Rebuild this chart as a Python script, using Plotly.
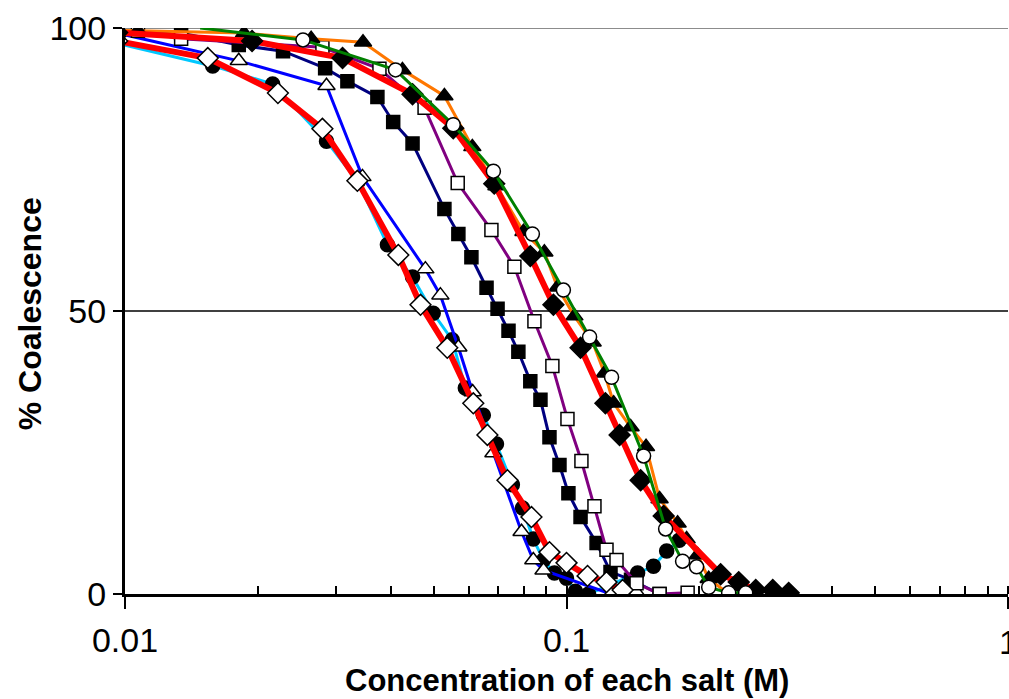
import plotly.graph_objects as go

# ---- data ----
# filled circles, cyan line
circ_x = [0.0096, 0.0158, 0.0216, 0.0286, 0.0337, 0.0393, 0.0448, 0.0499, 0.0551, 0.059, 0.0648,
          0.0694, 0.0754, 0.0795, 0.0841, 0.0887, 0.0939, 0.1, 0.1048, 0.1122, 0.1449, 0.1574, 0.1686, 0.18]
circ_y = [97.3, 93.3, 90.1, 80.0, 72.8, 61.7, 56.0, 49.6, 44.9, 36.4, 31.6,
          26.5, 19.3, 15.2, 9.7, 6.0, 3.7, 2.8, 0.5, 0.0, 3.7, 4.9, 7.6, 9.5]

# open triangles, blue line
otri_x = [0.0096, 0.0181, 0.0286, 0.0345, 0.0479, 0.0518, 0.0569, 0.0613, 0.0683, 0.0791, 0.0841, 0.0887, 0.126, 0.144]
otri_y = [99.1, 94.2, 89.8, 73.7, 57.4, 52.8, 43.6, 35.7, 24.9, 11.0, 6.0, 4.2, 0.0, 0.3]

# filled squares, navy line
fsq_x = [0.0096, 0.0134, 0.0181, 0.0228, 0.0284, 0.0319, 0.0373, 0.0405, 0.0448, 0.0529, 0.0569, 0.0609,
         0.0659, 0.0698, 0.0739, 0.0778, 0.0828, 0.0873, 0.0915, 0.0964, 0.101, 0.1076, 0.117, 0.1258, 0.14, 0.1625]
fsq_y = [98.8, 99.1, 97.0, 95.9, 92.9, 90.6, 87.8, 83.4, 79.6, 68.0, 63.6, 59.5,
         54.1, 50.4, 46.5, 42.8, 37.6, 34.3, 27.7, 22.8, 17.8, 13.6, 9.0, 3.9, 2.5, 0.0]

# open squares, purple line
osq_x = [0.0096, 0.0107, 0.0134, 0.028, 0.0377, 0.0477, 0.0567, 0.0676, 0.0762, 0.0846, 0.0929, 0.1005,
         0.1081, 0.1157, 0.1232, 0.1298, 0.1441, 0.1625, 0.1881]
osq_y = [99.0, 99.5, 98.1, 96.6, 92.8, 85.9, 72.6, 64.3, 57.8, 48.2, 40.3, 30.9,
         23.5, 15.5, 7.8, 6.0, 1.9, 0.0, 0.2]

# filled triangles, orange line
ftri_x = [0.0096, 0.0107, 0.0186, 0.0264, 0.0346, 0.0425, 0.0529, 0.0612, 0.0694, 0.0799, 0.0891, 0.0954,
          0.1042, 0.1146, 0.1219, 0.1279, 0.1397, 0.1514, 0.1625, 0.1785, 0.1871, 0.1982, 0.2099, 0.233]
ftri_y = [99.6, 99.5, 99.1, 98.1, 97.5, 92.6, 88.0, 79.0, 72.1, 64.0, 60.4, 54.2,
          49.1, 44.5, 39.0, 33.7, 29.5, 26.0, 16.8, 12.5, 9.7, 6.9, 2.7, 0.0]

# filled diamonds, thick red line (right group)
fdia_x = [0.0096, 0.0194, 0.0311, 0.0448, 0.0554, 0.0686, 0.0828, 0.0934, 0.1076, 0.1225, 0.1319,
          0.1472, 0.166, 0.2234, 0.2455, 0.2683, 0.2932, 0.3186]
fdia_y = [99.2, 97.7, 94.7, 88.3, 82.3, 72.5, 59.7, 51.1, 43.5, 33.7, 28.1,
          20.1, 13.8, 3.5, 2.1, 0.7, 0.7, 0.2]

# open diamonds, thick red line (left group)
odia_x = [0.0096, 0.0154, 0.0222, 0.028, 0.0336, 0.0416, 0.0467, 0.0537, 0.0615, 0.0662, 0.0735, 0.0833,
          0.0915, 0.1, 0.1116, 0.1232, 0.134]
odia_y = [97.7, 94.7, 88.5, 82.2, 73.0, 59.9, 51.1, 43.5, 33.7, 28.1, 20.1, 13.6,
          7.4, 5.5, 3.2, 2.1, 0.7]

# open circles, green line
ocir_x = [0.0148, 0.0253, 0.041, 0.0554, 0.0683, 0.0837, 0.0984, 0.1128, 0.1265, 0.1495, 0.1677, 0.1832,
          0.1971, 0.2099, 0.233, 0.2546]
ocir_y = [100.0, 97.9, 92.6, 82.9, 74.7, 63.6, 53.7, 45.4, 38.3, 24.4, 11.5, 5.8,
          4.8, 1.2, 0.2, 0.2]

x_tickvals = [0.01, 0.1, 1]
x_ticktext = ["0.01", "0.1", "1"]
y_tickvals = [0, 50, 100]

FONT = "Arial, Liberation Sans, sans-serif"

fig = go.Figure()


def add(x, y, color, width, symbol, fill, size, first_marker=True):
    sizes = [size] * len(x)
    if not first_marker:
        sizes[0] = 0
    fig.add_trace(go.Scatter(
        x=x, y=y, mode="lines+markers",
        line=dict(color=color, width=width),
        marker=dict(symbol=symbol, size=sizes, sizemode="diameter", color=fill,
                    opacity=1, line=dict(color="black", width=1.5)),
        showlegend=False, cliponaxis=True))


add(circ_x, circ_y, "#00C8FF", 3, "circle", "black", 14)
add(otri_x, otri_y, "#0000FF", 3, "triangle-up", "white", 15)
add(fsq_x, fsq_y, "#000080", 3, "square", "black", 13)
add(osq_x, osq_y, "#800080", 3, "square", "white", 13)
add(ftri_x, ftri_y, "#FF7700", 3, "triangle-up", "black", 15)
add(fdia_x, fdia_y, "#FF0000", 6, "diamond", "black", 16)
add(odia_x, odia_y, "#FF0000", 6, "diamond", "white", 16)
add(ocir_x, ocir_y, "#008000", 3, "circle", "white", 14, first_marker=False)

# reference lines (50% gridline, top border)
fig.add_shape(type="line", xref="paper", yref="y", x0=0, x1=1, y0=50, y1=50,
              line=dict(color="black", width=1.5), layer="below")
fig.add_shape(type="line", xref="paper", yref="y", x0=0, x1=1, y0=100, y1=100,
              line=dict(color="#8c8c8c", width=2), layer="below")

minor_vals = [0.02, 0.03, 0.04, 0.05, 0.06, 0.07, 0.08, 0.09, 0.1,
              0.2, 0.3, 0.4, 0.5, 0.6, 0.7, 0.8, 0.9, 1]

fig.update_xaxes(
    type="log", range=[-2, 0],
    tickmode="array", tickvals=x_tickvals, ticktext=x_ticktext,
    ticks="outside", ticklen=12, tickwidth=2, tickcolor="black",
    ticklabelstandoff=2,
    showline=True, linecolor="black", linewidth=3,
    showgrid=False, zeroline=False,
    tickfont=dict(family=FONT, size=34, color="black"),
    minor=dict(tickmode="array", tickvals=minor_vals, ticks="inside",
               ticklen=8, tickwidth=2, tickcolor="black", showgrid=False),
)
fig.update_yaxes(
    range=[0, 100],
    tickmode="array", tickvals=y_tickvals,
    ticks="outside", ticklen=9, tickwidth=2, tickcolor="black",
    showline=True, linecolor="black", linewidth=3,
    showgrid=False, zeroline=False,
    tickfont=dict(family=FONT, size=34, color="black"),
)

# the "1" label at the right edge of the axis (partly outside the figure, as in the reference)
fig.add_annotation(text="1", xref="paper", yref="paper", x=1, y=-0.085,
                   xanchor="center", yanchor="middle", showarrow=False,
                   font=dict(family=FONT, size=34, color="black"))

fig.add_annotation(text="<b>Concentration of each salt (M)</b>", xref="paper", yref="paper",
                   x=0.5, y=-0.152, xanchor="center", yanchor="middle", showarrow=False,
                   font=dict(family=FONT, size=31, color="black"))
fig.add_annotation(text="<b>% Coalescence</b>", xref="paper", yref="paper",
                   x=-0.1076, y=0.496, xanchor="center", yanchor="middle", showarrow=False,
                   textangle=-90, font=dict(family=FONT, size=32, color="black"))

fig.update_layout(
    width=1009, height=699,
    margin=dict(l=125, r=1, t=28, b=105),
    paper_bgcolor="white", plot_bgcolor="white",
)

fig.write_html("out.html")
